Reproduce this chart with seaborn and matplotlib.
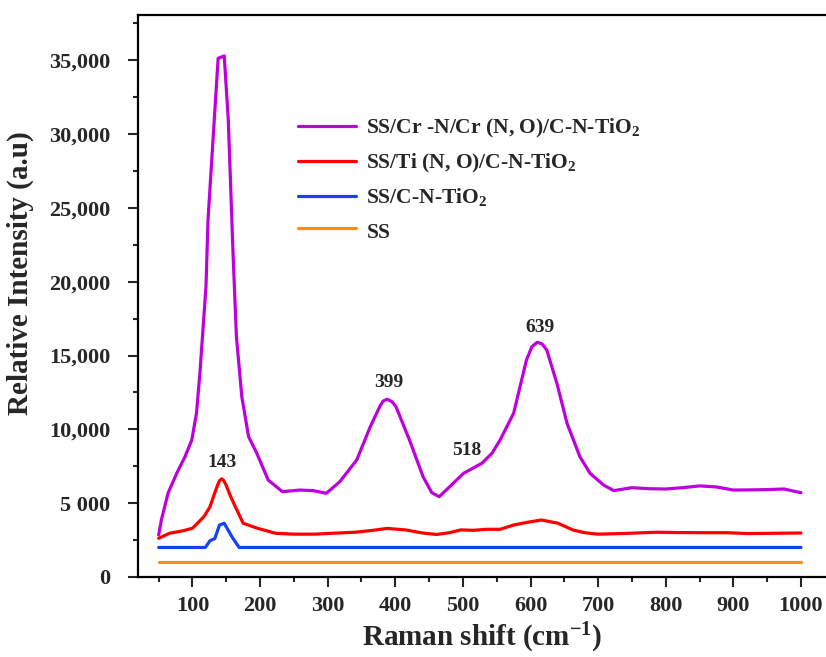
import numpy as np
import pandas as pd
import matplotlib
matplotlib.use('Agg')
import matplotlib.pyplot as plt
import seaborn as sns
from matplotlib.ticker import MultipleLocator, FixedLocator

# Raman spectra
labels = ['SS/Cr -N/Cr (N, O)/C-N-TiO$_2$', 'SS/Ti (N, O)/C-N-TiO$_2$',
          'SS/C-N-TiO$_2$', 'SS$_{\\ }$']
colors = ['#BE00DC', '#FF0000', '#1540FF', '#FF8A14']

purple_x = [50, 54, 64, 77, 89, 99, 106, 111, 120, 123, 131, 138, 147, 153, 160, 165,
            173, 183, 195, 212, 233, 259, 279, 298, 318, 343, 363, 377, 382, 388, 395,
            401, 421, 441, 454, 465, 478, 501, 528, 543, 555, 575, 594, 602, 610, 617,
            624, 639, 654, 673, 688, 708, 723, 750, 775, 800, 825, 850, 875, 900, 925,
            950, 975, 1000]
purple_y = [2850, 3860, 5690, 7050, 8150, 9280, 11110, 13800, 19670, 24190, 30060, 35140,
            35300, 30960, 21950, 16280, 12215, 9505, 8400, 6570, 5780, 5890, 5850, 5670,
            6460, 7930, 10180, 11540, 11920, 12040, 11880, 11540, 9280, 6800, 5710, 5440,
            6010, 7025, 7700, 8380, 9280, 11090, 14700, 15600, 15900, 15790, 15380, 13120,
            10410, 8150, 7025, 6230, 5850, 6050, 5980, 5960, 6050, 6170, 6100, 5890, 5900,
            5920, 5960, 5710]

red_x = [50, 66, 85, 100, 117, 126, 131, 137, 140, 143, 146, 150, 156, 163, 175, 196,
         223, 251, 280, 306, 340, 365, 388, 415, 440, 461, 480, 497, 515, 535, 555, 575,
         595, 616, 640, 663, 680, 700, 740, 785, 820, 853, 890, 921, 960, 1000]
red_y = [2620, 2960, 3120, 3300, 4090, 4760, 5440, 6200, 6520, 6650, 6550, 6200, 5500,
         4800, 3640, 3300, 2960, 2900, 2900, 2960, 3030, 3150, 3290, 3190, 2980, 2880,
         3000, 3190, 3160, 3230, 3230, 3520, 3700, 3860, 3650, 3180, 3000, 2900, 2950,
         3030, 3010, 3000, 3000, 2940, 2960, 2980]

blue_x = [50, 119, 126, 133, 140, 147, 158, 169, 1000]
blue_y = [2000, 2000, 2460, 2600, 3520, 3640, 2750, 2000, 2000]

orange_x = [50, 1000]
orange_y = [1000, 1000]

peak_pos = [144, 390, 506, 614]
peak_y = [7750, 13200, 8560, 16900]
peak_text = ['143', '399', '518', '639']

ytick_vals = [0, 5000, 10000, 15000, 20000, 25000, 30000, 35000]
ytick_text = ['0', '5 000', '10,000', '15,000', '20,000', '25,000', '30,000', '35,000']

frames = []
for lab, xs, ys in zip(labels, [purple_x, red_x, blue_x, orange_x],
                       [purple_y, red_y, blue_y, orange_y]):
    frames.append(pd.DataFrame({'shift': xs, 'intensity': ys, 'sample': lab}))
df = pd.concat(frames, ignore_index=True)

sns.set_style('ticks')
plt.rcParams['font.family'] = ['Liberation Serif', 'DejaVu Serif']
plt.rcParams['font.weight'] = 'bold'
plt.rcParams['mathtext.fontset'] = 'custom'
plt.rcParams['mathtext.bf'] = 'Liberation Serif:bold'
plt.rcParams['mathtext.rm'] = 'Liberation Serif:bold'
plt.rcParams['mathtext.default'] = 'bf'

fig = plt.figure(figsize=(8.26, 6.57), dpi=100)
ax = fig.add_axes([0.1667, 0.1218, 0.8333, 0.8554])

sns.lineplot(data=df, x='shift', y='intensity', hue='sample', hue_order=labels,
             palette=colors, sort=False, estimator=None, lw=2.3, ax=ax)

for xp, yp, t in zip(peak_pos, peak_y, peak_text):
    ax.text(xp, yp, t, ha='center', va='center', fontsize=14, fontweight='bold')

ax.set_xlim(19, 1037)
ax.set_ylim(0, 38075)
ax.xaxis.set_major_locator(FixedLocator(list(range(100, 1001, 100))))
ax.xaxis.set_minor_locator(FixedLocator(list(range(50, 1000, 100))))
ax.set_yticks(ytick_vals)
ax.set_yticklabels(ytick_text)
ax.yaxis.set_minor_locator(MultipleLocator(2500))

ax.tick_params(axis='both', which='major', length=7.5, width=1.5, labelsize=16,
               direction='out')
ax.tick_params(axis='both', which='minor', length=3.6, width=1.5, direction='out')
ax.tick_params(axis='y', which='major', pad=12)
ax.tick_params(axis='x', which='major', pad=6)
for lab in ax.get_xticklabels() + ax.get_yticklabels():
    lab.set_fontweight('bold')

for side in ['left', 'top', 'bottom']:
    ax.spines[side].set_linewidth(1.6)
    ax.spines[side].set_color('black')
ax.spines['right'].set_visible(False)

ax.set_xlabel('Raman shift (cm$^{-1}$)', fontsize=21, fontweight='bold', labelpad=4)
ax.set_ylabel('Relative Intensity (a.u)', fontsize=21, fontweight='bold')
ax.yaxis.set_label_coords(-0.151, 0.541)

handles, labs = ax.get_legend_handles_labels()
ax.legend(handles, labs, loc='upper left', bbox_to_anchor=(0.233, 0.819),
          frameon=False, fontsize=15.5, handlelength=2.7, handletextpad=0.45,
          labelspacing=0.55, borderpad=0, borderaxespad=0)

fig.savefig('out.png', dpi=100, facecolor='white')
